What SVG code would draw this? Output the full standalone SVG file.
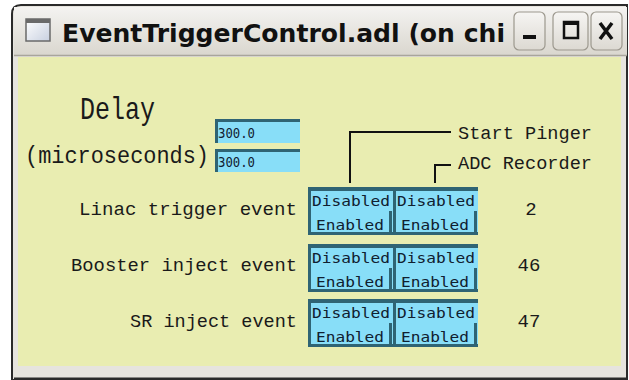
<svg xmlns="http://www.w3.org/2000/svg" width="629" height="380" viewBox="0 0 629 380">
<defs>
<linearGradient id="tb" x1="0" y1="0" x2="0" y2="1">
<stop offset="0" stop-color="#f4f3f1"/><stop offset="1" stop-color="#d9d6ce"/>
</linearGradient>
<linearGradient id="btn" x1="0" y1="0" x2="0" y2="1">
<stop offset="0" stop-color="#f6f5f3"/><stop offset="1" stop-color="#dcd9d2"/>
</linearGradient>
<linearGradient id="ico" x1="0" y1="0" x2="1" y2="1">
<stop offset="0" stop-color="#ffffff"/><stop offset="1" stop-color="#c8d0e0"/>
</linearGradient>
</defs>
<style>
.lbl{font-family:"Liberation Mono","DejaVu Sans Mono",monospace;fill:#1a1a1a}
.small{font-family:"DejaVu Sans Mono","Liberation Mono",monospace;font-size:14px;fill:#102030}
.fld{fill:#88def8}
.dark{fill:#2f6474}
.conn{fill:none;stroke:#111;stroke-width:2}
.tbtn{fill:url(#btn);stroke:#9c988e;stroke-width:1.2}
</style>
<rect x="0" y="0" width="629" height="380" fill="#ffffff"/>
<g id="window">
<path d="M12,378 L12,14 Q12,5 21,5 L627,5 L627,380 L12,380 Z" fill="#e6e4de" stroke="#2a2a2a" stroke-width="2"/>
<rect x="14" y="7" width="613" height="49" fill="url(#tb)"/>
<line x1="14" y1="55.5" x2="627" y2="55.5" stroke="#a8a59c" stroke-width="1.5"/>
<rect x="18" y="57" width="603" height="309" fill="#e9edb1"/>
<line x1="14" y1="378.5" x2="627" y2="378.5" stroke="#2a2a2a" stroke-width="2"/>
</g>
<g id="titlebar">
<rect x="26" y="19" width="24" height="22" fill="url(#ico)" stroke="#6a6a6a" stroke-width="1.5"/>
<rect x="26" y="19" width="24" height="4" fill="#6a6a6a"/>
<text x="62" y="42" font-family="'DejaVu Sans','Noto Sans',sans-serif" font-weight="bold" font-size="25" fill="#111" textLength="443" lengthAdjust="spacingAndGlyphs">EventTriggerControl.adl (on chi</text>
<rect class="tbtn" x="514" y="12" width="31" height="38" rx="5"/>
<rect x="523" y="35" width="13" height="4" fill="#111"/>
<rect class="tbtn" x="553" y="12" width="35" height="38" rx="5"/>
<rect x="564" y="22" width="14" height="16" fill="none" stroke="#111" stroke-width="2.5"/>
<rect x="564" y="22" width="14" height="3" fill="#111"/>
<rect class="tbtn" x="591" y="12" width="31" height="38" rx="5"/>
<path d="M600,23 L612,39 M612,23 L600,39" stroke="#111" stroke-width="3.5"/>
</g>
<g id="delay-label">
<text class="lbl" x="80" y="119" font-size="32" textLength="75" lengthAdjust="spacingAndGlyphs">Delay</text>
<text class="lbl" x="25" y="163" font-size="23" textLength="184" lengthAdjust="spacingAndGlyphs">(microseconds)</text>
</g>
<g id="delay-field-1">
<rect class="fld" x="215" y="119" width="85" height="24"/>
<rect class="dark" x="215" y="119" width="85" height="3"/>
<rect class="dark" x="215" y="119" width="3" height="24"/>
<text class="small" x="218" y="138" textLength="37" lengthAdjust="spacingAndGlyphs">300.0</text>
</g>
<g id="delay-field-2">
<rect class="fld" x="215" y="149" width="85" height="23"/>
<rect class="dark" x="215" y="149" width="85" height="3"/>
<rect class="dark" x="215" y="149" width="3" height="23"/>
<text class="small" x="218" y="167" textLength="37" lengthAdjust="spacingAndGlyphs">300.0</text>
</g>
<g id="start-pinger">
<text class="lbl" x="458" y="139" font-size="19" textLength="134" lengthAdjust="spacingAndGlyphs">Start Pinger</text>
</g>
<g id="adc-recorder">
<text class="lbl" x="458" y="169" font-size="19" textLength="134" lengthAdjust="spacingAndGlyphs">ADC Recorder</text>
</g>
<g id="connectors">
<path class="conn" d="M451,132 L350,132 L350,183"/>
<path class="conn" d="M451,165 L435,165 L435,183"/>
</g>
<g id="row-linac">
<text class="lbl" x="297" y="215" font-size="19" text-anchor="end" textLength="218" lengthAdjust="spacingAndGlyphs">Linac trigger event</text>
<g>
<rect class="fld" x="308" y="187" width="85" height="24"/>
<rect class="dark" x="308" y="187" width="85" height="4"/><rect class="dark" x="308" y="187" width="3" height="24"/>
<text class="small" x="312" y="206" textLength="78" lengthAdjust="spacingAndGlyphs">Disabled</text>
<rect class="fld" x="393" y="187" width="85" height="24"/>
<rect class="dark" x="393" y="187" width="85" height="4"/><rect class="dark" x="393" y="187" width="3" height="24"/>
<text class="small" x="397" y="206" textLength="78" lengthAdjust="spacingAndGlyphs">Disabled</text>
<rect class="fld" x="308" y="211" width="85" height="24"/>
<rect class="dark" x="308" y="211" width="3" height="24"/><rect class="dark" x="389" y="211" width="3" height="24"/><rect class="dark" x="308" y="232" width="85" height="3"/>
<text class="small" x="316" y="230" textLength="68" lengthAdjust="spacingAndGlyphs">Enabled</text>
<rect class="fld" x="393" y="211" width="85" height="24"/>
<rect class="dark" x="393" y="211" width="3" height="24"/><rect class="dark" x="474" y="211" width="3" height="24"/><rect class="dark" x="393" y="232" width="85" height="3"/>
<text class="small" x="401" y="230" textLength="68" lengthAdjust="spacingAndGlyphs">Enabled</text>
</g>
<text class="lbl" x="531" y="215" font-size="19" text-anchor="middle">2</text>
</g>
<g id="row-booster">
<text class="lbl" x="297" y="271" font-size="19" text-anchor="end" textLength="226" lengthAdjust="spacingAndGlyphs">Booster inject event</text>
<g>
<rect class="fld" x="308" y="244" width="85" height="24"/>
<rect class="dark" x="308" y="244" width="85" height="4"/><rect class="dark" x="308" y="244" width="3" height="24"/>
<text class="small" x="312" y="263" textLength="78" lengthAdjust="spacingAndGlyphs">Disabled</text>
<rect class="fld" x="393" y="244" width="85" height="24"/>
<rect class="dark" x="393" y="244" width="85" height="4"/><rect class="dark" x="393" y="244" width="3" height="24"/>
<text class="small" x="397" y="263" textLength="78" lengthAdjust="spacingAndGlyphs">Disabled</text>
<rect class="fld" x="308" y="268" width="85" height="24"/>
<rect class="dark" x="308" y="268" width="3" height="24"/><rect class="dark" x="389" y="268" width="3" height="24"/><rect class="dark" x="308" y="289" width="85" height="3"/>
<text class="small" x="316" y="287" textLength="68" lengthAdjust="spacingAndGlyphs">Enabled</text>
<rect class="fld" x="393" y="268" width="85" height="24"/>
<rect class="dark" x="393" y="268" width="3" height="24"/><rect class="dark" x="474" y="268" width="3" height="24"/><rect class="dark" x="393" y="289" width="85" height="3"/>
<text class="small" x="401" y="287" textLength="68" lengthAdjust="spacingAndGlyphs">Enabled</text>
</g>
<text class="lbl" x="529" y="271" font-size="19" text-anchor="middle">46</text>
</g>
<g id="row-sr">
<text class="lbl" x="297" y="327" font-size="19" text-anchor="end" textLength="167" lengthAdjust="spacingAndGlyphs">SR inject event</text>
<g>
<rect class="fld" x="308" y="299" width="85" height="24"/>
<rect class="dark" x="308" y="299" width="85" height="4"/><rect class="dark" x="308" y="299" width="3" height="24"/>
<text class="small" x="312" y="318" textLength="78" lengthAdjust="spacingAndGlyphs">Disabled</text>
<rect class="fld" x="393" y="299" width="85" height="24"/>
<rect class="dark" x="393" y="299" width="85" height="4"/><rect class="dark" x="393" y="299" width="3" height="24"/>
<text class="small" x="397" y="318" textLength="78" lengthAdjust="spacingAndGlyphs">Disabled</text>
<rect class="fld" x="308" y="323" width="85" height="24"/>
<rect class="dark" x="308" y="323" width="3" height="24"/><rect class="dark" x="389" y="323" width="3" height="24"/><rect class="dark" x="308" y="344" width="85" height="3"/>
<text class="small" x="316" y="342" textLength="68" lengthAdjust="spacingAndGlyphs">Enabled</text>
<rect class="fld" x="393" y="323" width="85" height="24"/>
<rect class="dark" x="393" y="323" width="3" height="24"/><rect class="dark" x="474" y="323" width="3" height="24"/><rect class="dark" x="393" y="344" width="85" height="3"/>
<text class="small" x="401" y="342" textLength="68" lengthAdjust="spacingAndGlyphs">Enabled</text>
</g>
<text class="lbl" x="529" y="327" font-size="19" text-anchor="middle">47</text>
</g>
</svg>
